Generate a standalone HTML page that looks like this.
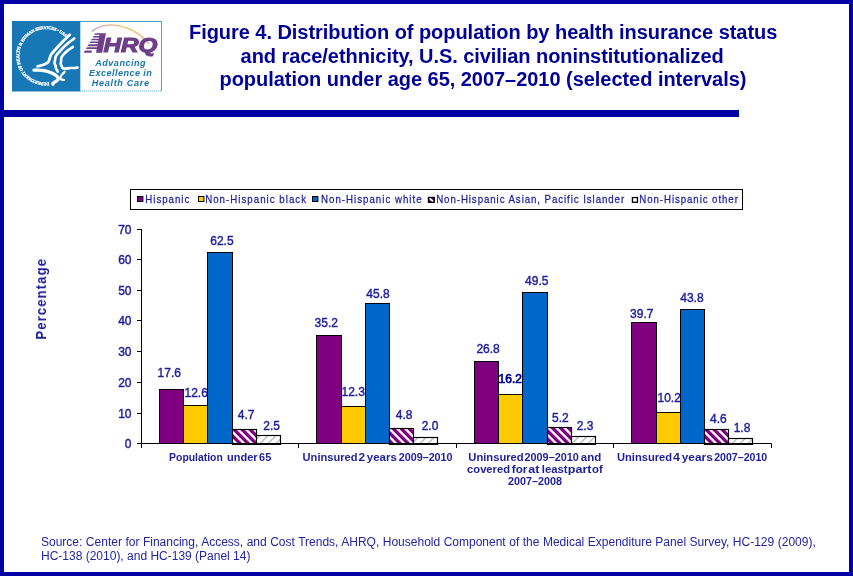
<!DOCTYPE html>
<html><head><meta charset="utf-8"><title>Figure 4</title>
<style>
html,body{margin:0;padding:0;background:#fff;}
body{width:853px;height:576px;position:relative;overflow:hidden;font-family:"Liberation Sans",sans-serif;}
#frame{position:absolute;left:0;top:0;width:845px;height:568px;border:4px solid #0000a4;}
#rule{position:absolute;left:0;top:110px;width:739px;height:7px;background:#0000a4;}
#title{position:absolute;left:0;top:20.7px;font-weight:bold;font-size:20px;line-height:23.5px;color:#000099;white-space:nowrap;}
#title span{position:absolute;display:block;}
#src{position:absolute;left:40.6px;top:534.5px;font-size:12px;line-height:14px;color:#2424a0;white-space:nowrap;}
#legend{position:absolute;left:130px;top:189px;width:611px;height:19px;border:1px solid #000;}
#title,#src,#chart{will-change:transform;}
svg text{font-family:"Liberation Sans",sans-serif;}
.lb{font-size:12px;fill:#1f1f99;stroke:#1f1f99;stroke-width:0.42px;}
.dk{fill:#00009a;stroke:#00009a;stroke-width:0.7px;}
.cat{font-size:10.8px;font-weight:bold;fill:#1f1f99;}
.yt{font-size:15.2px;font-weight:bold;fill:#1f1f99;}
.lg{font-size:10.9px;fill:#1f1f99;stroke:#1f1f99;stroke-width:0.25px;}
</style></head><body>
<div id="frame"></div>
<div id="rule"></div>
<div id="title"><span style="left:189px;top:0;letter-spacing:-0.045px">Figure 4. Distribution of population by health insurance status</span><span style="left:240.6px;top:23.6px;letter-spacing:-0.062px">and race/ethnicity, U.S. civilian noninstitutionalized</span><span style="left:219.5px;top:46.9px;letter-spacing:-0.04px">population under age 65, 2007–2010 (selected intervals)</span></div>
<div id="legend"></div>
<svg id="chart" width="853" height="576" viewBox="0 0 853 576" style="position:absolute;left:0;top:0">
<defs>
<pattern id="hp" width="8" height="8" patternUnits="userSpaceOnUse">
<rect width="8" height="8" fill="#800080"/><path d="M-9.00 0L-5.80 0L2.20 8L-1.00 8ZM-1.00 0L2.20 0L10.20 8L7.00 8ZM7.00 0L10.20 0L18.20 8L15.00 8Z" fill="#fff"/>
</pattern>
<pattern id="hg" width="8" height="8" patternUnits="userSpaceOnUse">
<rect width="8" height="8" fill="#fff"/><path d="M-1.60 0L0.80 0L-7.20 8L-9.60 8ZM6.40 0L8.80 0L0.80 8L-1.60 8ZM14.40 0L16.80 0L8.80 8L6.40 8Z" fill="#c6c6c6"/>
</pattern>
</defs>
<g id="logo">
<rect x="12" y="21" width="150" height="70.5" fill="#fff"/>
<path d="M80 21.5H161.5V91" fill="none" stroke="#4aa0c8" stroke-width="1"/><path d="M80 91H161.5" fill="none" stroke="#6aaed0" stroke-width="1" stroke-dasharray="1.2 0.8"/>
<rect x="12" y="21" width="68.3" height="70.5" fill="#1878b6"/>
<defs><path id="circ" d="M49.1 82.5A26.8 26.8 0 1 1 66.0 38.0"/>
<linearGradient id="arcg" x1="91" y1="0" x2="150" y2="0" gradientUnits="userSpaceOnUse">
<stop offset="0" stop-color="#b898c8"/><stop offset="0.3" stop-color="#e8b0a0"/><stop offset="0.65" stop-color="#f0cc60"/><stop offset="1" stop-color="#e89888"/></linearGradient>
</defs>
<text style="font-family:'Liberation Serif',serif;font-size:4.35px;font-weight:bold;fill:#fff;stroke:#fff;stroke-width:0.3px"><textPath href="#circ" textLength="108.7" lengthAdjust="spacing">DEPARTMENT OF HEALTH &amp; HUMAN SERVICES • USA</textPath></text>
<g fill="none" stroke="#fff" stroke-linecap="round" stroke-linejoin="round">
<path d="M69.7 34.8L63 41.3L56.5 48.3L51.6 53.8C49.4 56.4 50 58.6 48.8 61.2C47.4 64 43 65.4 37.6 66.4" stroke-width="2.8"/>
<path d="M74.2 38.5L68.2 43L62 48.8L56.9 54.5C54.4 57.4 55.8 59.4 54.6 61.8C53.6 63.8 56.4 65.4 55.8 67.4C55.4 68.8 57.2 70 57.8 71.6" stroke-width="2.7"/>
<path d="M73 46.9L67.6 50.5L63.2 54.8C59.8 58.2 61.8 60.4 60.8 62.8C60 64.8 62.4 66.2 62.4 68C65 69.4 67.4 68.2 70.4 68C73.2 67.8 75.6 68.4 77.6 67.5" stroke-width="2.6"/>
<path d="M34 70.2C40 69.8 47.4 70.8 52.8 73.4C58.4 76.2 59.4 78.4 57 80.6C55 82.4 52 83 53 84.4" stroke-width="3.3"/>
<path d="M64.6 71.8C62.4 73.8 60.2 75.8 60.4 77.8C60.6 79.6 62.4 80.2 64 79.8" stroke-width="2.3"/>
</g>
<path d="M91.8 31.4C98 26.4 106 24.6 113 25C128 26.2 140 33 149 44.2" fill="none" stroke="url(#arcg)" stroke-width="1.5" opacity="0.9"/>
<g fill="#6d3f88">
<path d="M99.7 33.3H105.9L102.2 52.8H96Z"/>
<path d="M95.1 33.3L100.2 33.3L99.9 34.7L94.3 34.7ZM93.5 36.0L99.7 36.0L99.4 37.4L92.7 37.4ZM91.9 38.7L99.2 38.7L98.9 40.2L91.1 40.2ZM90.3 41.5L98.6 41.5L98.4 43.0L89.4 43.0ZM88.7 44.2L98.1 44.2L97.7 46.3L87.5 46.3ZM86.9 47.3L97.5 47.3L97.2 49.0L85.9 49.0ZM85.0 50.6L92.0 50.6L91.6 52.8L83.7 52.8Z"/>
</g>
<text x="103.4" y="52.3" textLength="54" lengthAdjust="spacingAndGlyphs" style="font-family:'Liberation Sans',sans-serif;font-size:20px;font-weight:bold;font-style:italic;fill:#6d3f88;stroke:#6d3f88;stroke-width:1.1px;stroke-linejoin:miter">HRQ</text>
<g style="font-family:'Liberation Sans',sans-serif;font-size:9.1px;font-weight:bold;font-style:italic;fill:#1a76a8">
<text x="95.3" y="65.6" textLength="50.2" lengthAdjust="spacing">Advancing</text>
<text x="88.9" y="75.7" textLength="63" lengthAdjust="spacing">Excellence in</text>
<text x="91.8" y="85.5" textLength="57.2" lengthAdjust="spacing">Health Care</text>
</g>
</g>

<rect x="137.5" y="196.5" width="5.4" height="5" fill="#800080" stroke="#000" stroke-width="1"/>
<text transform="translate(145.3 202.9) scale(0.89 1)" textLength="49.4" lengthAdjust="spacing" class="lg">Hispanic</text>
<rect x="198.5" y="196.5" width="5.4" height="5" fill="#ffcc00" stroke="#000" stroke-width="1"/>
<text transform="translate(205.2 202.9) scale(0.89 1)" textLength="113.3" lengthAdjust="spacing" class="lg">Non-Hispanic black</text>
<rect x="312.5" y="196.5" width="5.4" height="5" fill="#0066cc" stroke="#000" stroke-width="1"/>
<text transform="translate(321.1 202.9) scale(0.89 1)" textLength="112.9" lengthAdjust="spacing" class="lg">Non-Hispanic white</text>
<rect x="428.55" y="197.55" width="5.7" height="4.7" fill="#800080" stroke="#000" stroke-width="1.3"/>
<path d="M428.9 197.6L433.9 202.2" stroke="#fff" stroke-width="1.9"/>
<rect x="428.55" y="197.55" width="5.7" height="4.7" fill="none" stroke="#000" stroke-width="1.3"/>
<text transform="translate(436.2 202.9) scale(0.89 1)" textLength="211.2" lengthAdjust="spacing" class="lg">Non-Hispanic Asian, Pacific Islander</text>
<rect x="632.45" y="197.55" width="5.0" height="4.7" fill="#fff" stroke="#000" stroke-width="1.3"/>
<text transform="translate(639.3 202.9) scale(0.89 1)" textLength="110.8" lengthAdjust="spacing" class="lg">Non-Hispanic other</text>
<path d="M141.5 229V443.5H771.5" fill="none" stroke="#000" stroke-width="1"/>
<path d="M137.0 229.5H141.5" stroke="#000" stroke-width="1"/>
<text x="131.5" y="234.0" text-anchor="end" class="lb">70</text>
<path d="M137.0 259.5H141.5" stroke="#000" stroke-width="1"/>
<text x="131.5" y="264.0" text-anchor="end" class="lb">60</text>
<path d="M137.0 290.5H141.5" stroke="#000" stroke-width="1"/>
<text x="131.5" y="295.0" text-anchor="end" class="lb">50</text>
<path d="M137.0 320.5H141.5" stroke="#000" stroke-width="1"/>
<text x="131.5" y="325.0" text-anchor="end" class="lb">40</text>
<path d="M137.0 351.5H141.5" stroke="#000" stroke-width="1"/>
<text x="131.5" y="356.0" text-anchor="end" class="lb">30</text>
<path d="M137.0 382.5H141.5" stroke="#000" stroke-width="1"/>
<text x="131.5" y="387.0" text-anchor="end" class="lb">20</text>
<path d="M137.0 413.5H141.5" stroke="#000" stroke-width="1"/>
<text x="131.5" y="418.0" text-anchor="end" class="lb">10</text>
<path d="M137.0 443.5H141.5" stroke="#000" stroke-width="1"/>
<text x="131.5" y="448.0" text-anchor="end" class="lb">0</text>
<path d="M141.5 443.5V448.0" stroke="#000" stroke-width="1"/>
<path d="M298.5 443.5V448.0" stroke="#000" stroke-width="1"/>
<path d="M456.5 443.5V448.0" stroke="#000" stroke-width="1"/>
<path d="M613.5 443.5V448.0" stroke="#000" stroke-width="1"/>
<path d="M771.5 443.5V448.0" stroke="#000" stroke-width="1"/>
<rect x="159.5" y="389.5" width="24.0" height="54.0" fill="#7e0081" stroke="#000" stroke-width="1"/>
<rect x="183.5" y="405.5" width="24.0" height="38.0" fill="#ffca00" stroke="#000" stroke-width="1"/>
<rect x="207.5" y="252.5" width="25.0" height="191.0" fill="#0067ca" stroke="#000" stroke-width="1"/>
<rect x="232.5" y="429.5" width="24.0" height="14.5" fill="url(#hp)" stroke="#000" stroke-width="1.15"/>
<rect x="256.5" y="435.5" width="24.0" height="8.5" fill="url(#hg)" stroke="#000" stroke-width="1.15"/>
<rect x="231.8" y="443.0" width="49.4" height="1.9" fill="#000"/>
<text x="169.3" y="376.7" text-anchor="middle" class="lb">17.6</text>
<text x="196.2" y="397.1" text-anchor="middle" class="lb">12.6</text>
<text x="221.9" y="245.0" text-anchor="middle" class="lb">62.5</text>
<text x="246.2" y="418.6" text-anchor="middle" class="lb">4.7</text>
<text x="271.6" y="430.0" text-anchor="middle" class="lb">2.5</text>
<rect x="316.5" y="335.5" width="25.0" height="108.0" fill="#7e0081" stroke="#000" stroke-width="1"/>
<rect x="341.5" y="406.5" width="24.0" height="37.0" fill="#ffca00" stroke="#000" stroke-width="1"/>
<rect x="365.5" y="303.5" width="24.0" height="140.0" fill="#0067ca" stroke="#000" stroke-width="1"/>
<rect x="389.5" y="428.5" width="24.0" height="15.5" fill="url(#hp)" stroke="#000" stroke-width="1.15"/>
<rect x="413.5" y="437.5" width="24.0" height="6.5" fill="url(#hg)" stroke="#000" stroke-width="1.15"/>
<rect x="388.8" y="443.0" width="49.4" height="1.9" fill="#000"/>
<text x="326.3" y="327.0" text-anchor="middle" class="lb">35.2</text>
<text x="353.2" y="396.0" text-anchor="middle" class="lb">12.3</text>
<text x="378.0" y="297.9" text-anchor="middle" class="lb">45.8</text>
<text x="404.1" y="419.2" text-anchor="middle" class="lb">4.8</text>
<text x="430.0" y="429.8" text-anchor="middle" class="lb">2.0</text>
<rect x="474.5" y="361.5" width="24.0" height="82.0" fill="#7e0081" stroke="#000" stroke-width="1"/>
<rect x="498.5" y="394.5" width="24.0" height="49.0" fill="#ffca00" stroke="#000" stroke-width="1"/>
<rect x="522.5" y="292.5" width="25.0" height="151.0" fill="#0067ca" stroke="#000" stroke-width="1"/>
<rect x="547.5" y="427.5" width="24.0" height="16.5" fill="url(#hp)" stroke="#000" stroke-width="1.15"/>
<rect x="571.5" y="436.5" width="24.0" height="7.5" fill="url(#hg)" stroke="#000" stroke-width="1.15"/>
<rect x="546.8" y="443.0" width="49.4" height="1.9" fill="#000"/>
<text x="488.1" y="352.7" text-anchor="middle" class="lb">26.8</text>
<text x="510.3" y="383.4" text-anchor="middle" class="lb dk">16.2</text>
<text x="536.8" y="284.6" text-anchor="middle" class="lb">49.5</text>
<text x="560.4" y="421.7" text-anchor="middle" class="lb">5.2</text>
<text x="585.0" y="429.7" text-anchor="middle" class="lb">2.3</text>
<rect x="631.5" y="322.5" width="25.0" height="121.0" fill="#7e0081" stroke="#000" stroke-width="1"/>
<rect x="656.5" y="412.5" width="24.0" height="31.0" fill="#ffca00" stroke="#000" stroke-width="1"/>
<rect x="680.5" y="309.5" width="24.0" height="134.0" fill="#0067ca" stroke="#000" stroke-width="1"/>
<rect x="704.5" y="429.5" width="24.0" height="14.5" fill="url(#hp)" stroke="#000" stroke-width="1.15"/>
<rect x="728.5" y="438.5" width="24.0" height="5.5" fill="url(#hg)" stroke="#000" stroke-width="1.15"/>
<rect x="703.8" y="443.0" width="49.4" height="1.9" fill="#000"/>
<text x="641.8" y="317.8" text-anchor="middle" class="lb">39.7</text>
<text x="669.2" y="401.7" text-anchor="middle" class="lb">10.2</text>
<text x="691.9" y="302.0" text-anchor="middle" class="lb">43.8</text>
<text x="718.3" y="423.1" text-anchor="middle" class="lb">4.6</text>
<text x="742.0" y="431.5" text-anchor="middle" class="lb">1.8</text>
<text x="169.1" y="460.7" textLength="53.7" lengthAdjust="spacingAndGlyphs" class="cat">Population</text>
<text x="227.0" y="460.7" textLength="30.6" lengthAdjust="spacingAndGlyphs" class="cat">under</text>
<text x="259.1" y="460.7" textLength="12.1" lengthAdjust="spacingAndGlyphs" class="cat">65</text>
<text x="302.6" y="460.8" textLength="54.9" lengthAdjust="spacingAndGlyphs" class="cat">Uninsured</text>
<text x="358.4" y="460.8" textLength="6.6" lengthAdjust="spacingAndGlyphs" class="cat">2</text>
<text x="366.8" y="460.8" textLength="30.1" lengthAdjust="spacingAndGlyphs" class="cat">years</text>
<text x="398.7" y="460.8" textLength="53.9" lengthAdjust="spacingAndGlyphs" class="cat">2009–2010</text>
<text x="468.3" y="460.8" textLength="55.4" lengthAdjust="spacingAndGlyphs" class="cat">Uninsured</text>
<text x="524.5" y="460.8" textLength="54.3" lengthAdjust="spacingAndGlyphs" class="cat">2009–2010</text>
<text x="580.8" y="460.8" textLength="20.5" lengthAdjust="spacingAndGlyphs" class="cat">and</text>
<text x="467.1" y="472.8" textLength="42.9" lengthAdjust="spacingAndGlyphs" class="cat">covered</text>
<text x="511.8" y="472.8" textLength="15.6" lengthAdjust="spacingAndGlyphs" class="cat">for</text>
<text x="528.3" y="472.8" textLength="11.1" lengthAdjust="spacingAndGlyphs" class="cat">at</text>
<text x="541.8" y="472.8" textLength="25.8" lengthAdjust="spacingAndGlyphs" class="cat">least</text>
<text x="567.7" y="472.8" textLength="23.9" lengthAdjust="spacingAndGlyphs" class="cat">part</text>
<text x="592.1" y="472.8" textLength="10.7" lengthAdjust="spacingAndGlyphs" class="cat">of</text>
<text x="508.0" y="484.6" textLength="53.9" lengthAdjust="spacingAndGlyphs" class="cat">2007–2008</text>
<text x="617.0" y="460.8" textLength="55.0" lengthAdjust="spacingAndGlyphs" class="cat">Uninsured</text>
<text x="672.9" y="460.8" textLength="7.0" lengthAdjust="spacingAndGlyphs" class="cat">4</text>
<text x="681.7" y="460.8" textLength="31.1" lengthAdjust="spacingAndGlyphs" class="cat">years</text>
<text x="714.2" y="460.8" textLength="53.0" lengthAdjust="spacingAndGlyphs" class="cat">2007–2010</text>
<text transform="translate(46 339.6) rotate(-90) scale(0.87 1)" textLength="92.6" lengthAdjust="spacing" class="yt">Percentage</text>
</svg>
<div id="src"><span style="word-spacing:0.18px">Source: Center for Financing, Access, and Cost Trends, AHRQ, Household Component of the Medical Expenditure Panel Survey, HC-129 (2009),</span><br>HC-138 (2010), and HC-139 (Panel 14)</div>
</body></html>
